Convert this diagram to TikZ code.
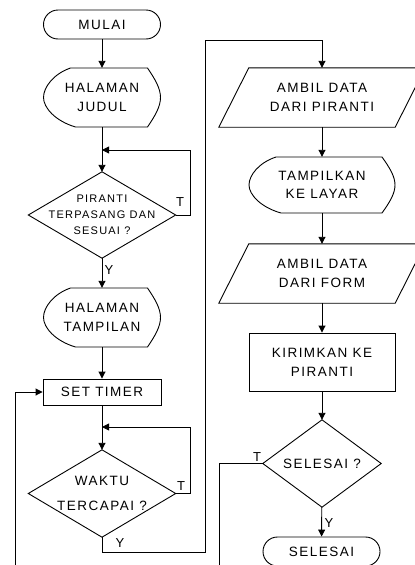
\documentclass[tikz,border=0pt]{standalone}
\usepackage{fontspec}
\setmainfont{Liberation Sans}[LetterSpace=11]
\usetikzlibrary{arrows.meta}
\tikzset{
  line/.style={draw=black, line width=0.9pt},
  arr/.style={line, -{Triangle[length=7pt,width=7pt]}},
  txt/.style={font=\fontsize{13.5}{19}\selectfont, align=center, inner sep=0pt},
  term/.style={txt, draw=black, line width=0.9pt, rounded corners=14.5pt, minimum width=117pt, minimum height=29pt},
  procbox/.style={txt, draw=black, line width=0.9pt},
  lbl/.style={font=\fontsize{13}{13}\selectfont, inner sep=0pt},
}
\newcommand\dispoutline[3]{%
  \begin{scope}[shift={(#1.center)}]
  \draw[line] ({-#2+27},{-#3}) -- ({#2-13},{-#3})
    .. controls ({#2-5},{-0.6*#3}) and ({#2},{-0.3*#3}) .. ({#2},0)
    .. controls ({#2},{0.3*#3}) and ({#2-5},{0.6*#3}) .. ({#2-13},{#3})
    -- ({-#2+32},{#3})
    .. controls ({-#2+12},{0.8*#3}) and ({-#2},{0.35*#3}) .. ({-#2},0)
    .. controls ({-#2},{-0.35*#3}) and ({-#2+10},{-0.8*#3}) .. cycle;
  \end{scope}}
\newcommand\paraoutline[1]{\draw[line] ([xshift=30pt]#1.north west) -- (#1.north east) -- ([xshift=-30pt]#1.south east) -- (#1.south west) -- cycle;}
\newcommand\diaoutline[1]{\draw[line] (#1.north) -- (#1.east) -- (#1.south) -- (#1.west) -- cycle;}
\begin{document}
\begin{tikzpicture}[x=1pt,y=-1pt]
\useasboundingbox (0,0) rectangle (415,565);
\fill[white] (0,0) rectangle (415,565);
\clip (0,0) rectangle (415,565);

% left column
\node[term] (mulai) at (102,24.5) {MULAI};
\node[txt, minimum width=117pt, minimum height=59pt] (judul) at (102,97.5) {HALAMAN\\JUDUL};
\dispoutline{judul}{58.5}{29.5}
\node[txt, font=\fontsize{11}{16}\selectfont, minimum width=147pt, minimum height=86pt] (d1) at (102,215) {PIRANTI\\TERPASANG DAN\\SESUAI ?};
\diaoutline{d1}
\node[txt, minimum width=117pt, minimum height=59pt] (tampilan) at (102,317.5) {HALAMAN\\TAMPILAN};
\dispoutline{tampilan}{58.5}{29.5}
\node[procbox, minimum width=118pt, minimum height=26pt] (timer) at (102,392) {SET TIMER};
\node[txt, font=\fontsize{13.5}{25}\selectfont, minimum width=147pt, minimum height=87pt] (d2) at (102,493.5) {WAKTU\\TERCAPAI ?};
\diaoutline{d2}

% right column
\node[txt, minimum width=206pt, minimum height=59pt] (p1) at (322,97.5) {AMBIL DATA\\DARI PIRANTI};
\paraoutline{p1}
\node[txt, font=\fontsize{13.5}{18}\selectfont, minimum width=146pt, minimum height=56pt] (tampilkan) at (322,185) {TAMPILKAN\\KE LAYAR};
\dispoutline{tampilkan}{73}{28}
\node[txt, minimum width=206pt, minimum height=59pt] (p2) at (322,273.5) {AMBIL DATA\\DARI FORM};
\paraoutline{p2}
\node[procbox, minimum width=146pt, minimum height=58pt] (kirim) at (322,362) {KIRIMKAN KE\\PIRANTI};
\node[txt, minimum width=118pt, minimum height=87pt] (d3) at (322,463.5) {SELESAI ?};
\diaoutline{d3}
\node[term] (selesai) at (321.5,551.5) {SELESAI};

% connectors
\coordinate (m1) at (102,150);
\coordinate (m2) at (102,427);
\coordinate (c1) at (205,552);
\coordinate (c2) at (322,40);
\coordinate (e1) at (219,566);
\coordinate (e2) at (15,566);

\draw[arr] (mulai) -- (judul);
\draw[arr] (judul) -- (d1);
\draw[arr] (d1.east) -- ++(15,0) |- (m1);
\draw[arr] (d1) -- (tampilan);
\draw[arr] (tampilan) -- (timer);
\draw[arr] (timer) -- (d2);
\draw[arr] (d2.east) -- ++(15,0) |- (m2);
\draw[arr] (d2.south) |- (c1) |- (c2) -- (p1);
\draw[arr] (p1) -- (tampilkan);
\draw[arr] (tampilkan) -- (p2);
\draw[arr] (p2) -- (kirim);
\draw[arr] (kirim) -- (d3);
\draw[arr] (d3) -- (selesai);
\draw[line] (d3.west) -| (e1);
\draw[arr] (e2) |- (timer.west);

% labels
\node[lbl] (t1) at (180,202) {T};
\node[lbl] (y1) at (109,270) {Y};
\node[lbl] (t2) at (181,486) {T};
\node[lbl] (y2) at (120,543) {Y};
\node[lbl] (t3) at (257,457) {T};
\node[lbl] (y3) at (329,523) {Y};
\end{tikzpicture}
\end{document}
